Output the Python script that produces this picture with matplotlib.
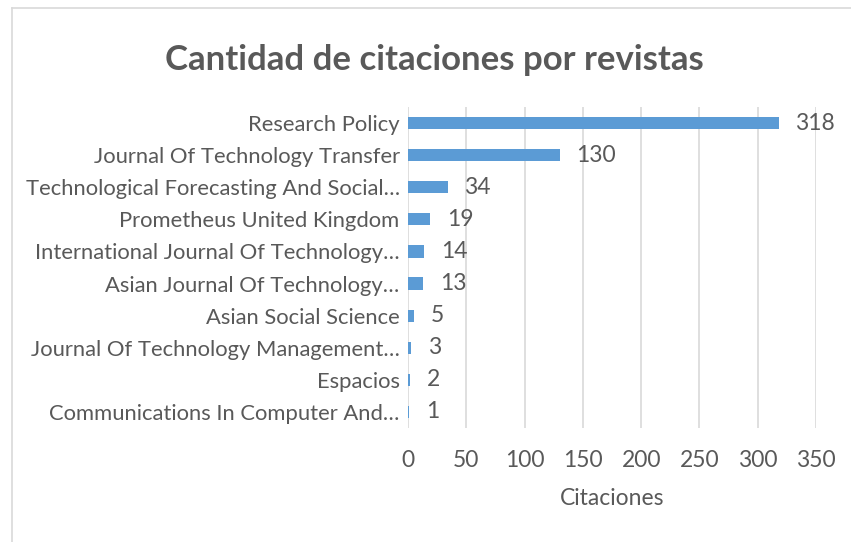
import matplotlib.pyplot as plt
from matplotlib.lines import Line2D

revistas = [
    "Research Policy",
    "Journal Of Technology Transfer",
    "Technological Forecasting And Social…",
    "Prometheus United Kingdom",
    "International Journal Of Technology…",
    "Asian Journal Of Technology…",
    "Asian Social Science",
    "Journal Of Technology Management…",
    "Espacios",
    "Communications In Computer And…",
]
citaciones = [318, 130, 34, 19, 14, 13, 5, 3, 2, 1]
ticks_x = [0, 50, 100, 150, 200, 250, 300, 350]

gris = "#595959"
azul = "#5B9BD5"
fs = 16.5

plt.rcParams["font.family"] = ["Lato", "DejaVu Sans"]

fig = plt.figure(figsize=(8.51, 5.42), dpi=100)
ax = fig.add_axes([0.4794, 0.2103, 0.4795, 0.5923])

pos = list(range(len(revistas)))
ax.barh(pos, citaciones, height=0.38, color=azul, zorder=3)
ax.set_ylim(len(revistas) - 0.5, -0.5)
ax.set_xlim(0, 350)

for p, v in zip(pos, citaciones):
    ax.annotate(str(v), (v, p), xytext=(12, 0), textcoords="offset points",
                va="center", ha="left", fontsize=fs, color=gris)

ax.set_yticks(pos)
ax.set_yticklabels(revistas, fontsize=15.8, color=gris)
ax.set_xticks(ticks_x)
ax.set_xticklabels([str(t) for t in ticks_x], fontsize=fs, color=gris)
ax.tick_params(axis="both", length=0)
ax.tick_params(axis="y", pad=6)
ax.tick_params(axis="x", pad=16)
ax.grid(axis="x", color="#d9d9d9", linewidth=1.2, zorder=0)
for s in ax.spines.values():
    s.set_visible(False)

ax.set_xlabel("Citaciones", fontsize=fs, color=gris, labelpad=12)

fig.text(0.511, 0.89, "Cantidad de citaciones por revistas", ha="center", va="center",
         fontsize=25, fontweight="bold", color=gris)

# marco del grafico
fig.add_artist(Line2D([12 / 851, 1], [1 - 8 / 542, 1 - 8 / 542], color="#d9d9d9", lw=1.2))
fig.add_artist(Line2D([12 / 851, 12 / 851], [0, 1 - 8 / 542], color="#d9d9d9", lw=1.2))

fig.savefig("out.png", dpi=100, facecolor="white")
